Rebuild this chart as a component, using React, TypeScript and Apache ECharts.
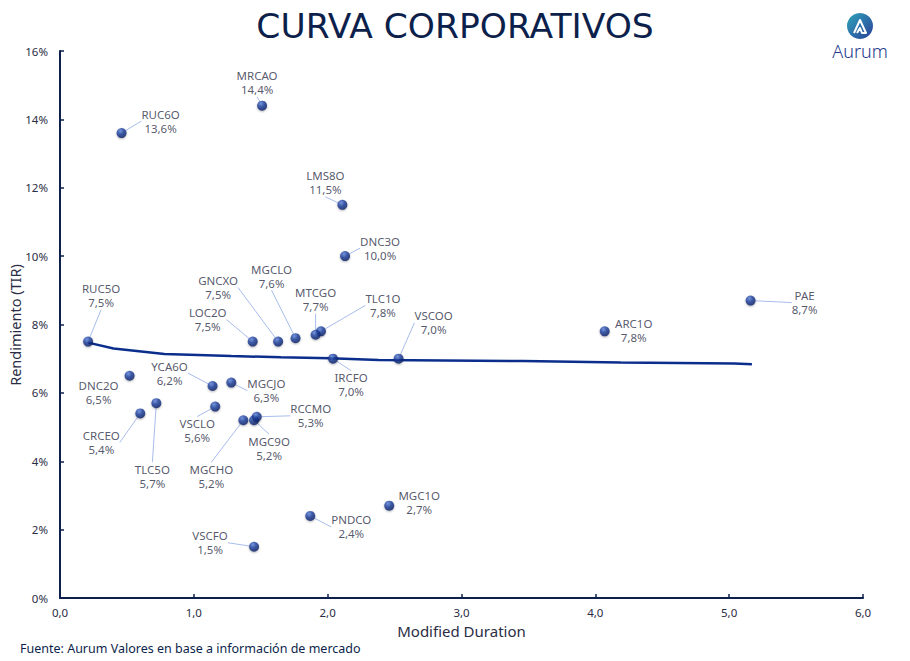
import React, { useEffect, useRef } from "react";
import * as echarts from "echarts";

// Bond tickers, modified duration (years) and yield to maturity (%)
const tickers = [
  "RUC6O", "MRCAO", "LMS8O", "DNC3O", "PAE", "ARC1O", "VSCOO", "IRCFO",
  "TLC1O", "MTCGO", "MGCLO", "GNCXO", "LOC2O", "RUC5O", "DNC2O", "YCA6O",
  "MGCJO", "VSCLO", "CRCEO", "TLC5O", "MGCHO", "MGC9O", "RCCMO", "MGC1O",
  "PNDCO", "VSCFO",
];
const durations = [
  0.46, 1.51, 2.11, 2.13, 5.16, 4.07, 2.53, 2.04,
  1.95, 1.91, 1.76, 1.63, 1.44, 0.21, 0.52, 1.14,
  1.28, 1.16, 0.60, 0.72, 1.37, 1.45, 1.47, 2.46,
  1.87, 1.45,
];
const yields = [
  13.6, 14.4, 11.5, 10.0, 8.7, 7.8, 7.0, 7.0,
  7.8, 7.7, 7.6, 7.5, 7.5, 7.5, 6.5, 6.2,
  6.3, 5.6, 5.4, 5.7, 5.2, 5.2, 5.3, 2.7,
  2.4, 1.5,
];

// Fitted yield curve, read along its length
const curveDuration = [0.21, 0.40, 0.78, 1.28, 1.65, 2.02, 2.38, 2.87, 3.46, 4.19, 5.04, 5.17];
const curveYield = [7.47, 7.30, 7.14, 7.08, 7.04, 7.01, 6.96, 6.95, 6.93, 6.89, 6.86, 6.84];

const xTicks = [0, 1, 2, 3, 4, 5, 6];
const yTicks = [0, 2, 4, 6, 8, 10, 12, 14, 16];

// Label placement relative to each marker (px) and whether a leader line is drawn
const labelOffset: Record<string, [number, number]> = {
  RUC6O: [39, -12], MRCAO: [-5, -23], LMS8O: [-17, -22], DNC3O: [35, -8],
  PAE: [54, 2], ARC1O: [29, -1], VSCOO: [35, -36], IRCFO: [18, 26],
  TLC1O: [62, -26], MTCGO: [0, -35], MGCLO: [-24, -62], GNCXO: [-60, -54],
  LOC2O: [-45, -22], RUC5O: [13, -46], DNC2O: [-31, 17], YCA6O: [-43, -13],
  MGCJO: [35, 8], VSCLO: [-18, 24], CRCEO: [-39, 29], TLC5O: [-4, 73],
  MGCHO: [-32, 56], MGC9O: [15, 28], RCCMO: [54, -1], MGC1O: [30, -3],
  PNDCO: [41, 11], VSCFO: [-44, -4],
};
const noLeader = new Set(["ARC1O", "DNC2O", "MGC1O"]);

const FONT = '"Noto Sans", sans-serif';
const NAVY = "#0d1f4b";
const TEXT = "#2a2d45";

const fmt = (v: number) => v.toFixed(1).replace(".", ",");

export default function App() {
  const ref = useRef<HTMLDivElement>(null);

  useEffect(() => {
    if (!ref.current) return;
    const chart = echarts.init(ref.current, null, { renderer: "svg" });

    const points = tickers.map((name, i) => ({
      name,
      value: [durations[i], yields[i]],
      labelLine: { show: !noLeader.has(name) },
    }));

    const ball = {
      type: "radial",
      x: 0.38,
      y: 0.3,
      r: 0.75,
      colorStops: [
        { offset: 0, color: "#5f84dc" },
        { offset: 0.45, color: "#1a3c98" },
        { offset: 1, color: "#081a5c" },
      ],
    };

    chart.setOption({
      animation: false,
      backgroundColor: "#ffffff",
      textStyle: { fontFamily: FONT },
      grid: { left: 60, right: 47, top: 51, bottom: 63, outerBoundsMode: "none", containLabel: false },
      xAxis: {
        type: "value",
        min: xTicks[0],
        max: xTicks[xTicks.length - 1],
        interval: 1,
        name: "Modified Duration",
        nameLocation: "middle",
        nameGap: 25,
        nameTextStyle: { color: TEXT, fontSize: 15, fontFamily: FONT },
        axisLine: { lineStyle: { color: NAVY, width: 2 } },
        axisTick: { inside: true, length: 4, lineStyle: { color: NAVY, width: 1.5 } },
        axisLabel: { color: TEXT, fontSize: 11.5, margin: 8, formatter: (v: number) => fmt(v) },
        splitLine: { show: false },
      },
      yAxis: {
        type: "value",
        min: yTicks[0],
        max: yTicks[yTicks.length - 1],
        interval: 2,
        axisLine: { show: true, lineStyle: { color: NAVY, width: 2 } },
        axisTick: { show: true, inside: true, length: 4, lineStyle: { color: NAVY, width: 1.5 } },
        axisLabel: { color: TEXT, fontSize: 11.5, margin: 12, formatter: (v: number) => `${v}%` },
        splitLine: { show: false },
      },
      series: [
        {
          type: "line",
          data: curveDuration.map((d, i) => [d, curveYield[i]]),
          showSymbol: false,
          smooth: false,
          silent: true,
          z: 2,
          lineStyle: { color: "#0b2e8c", width: 2.5 },
        },
        {
          type: "scatter",
          data: points,
          symbolSize: 10,
          z: 5,
          itemStyle: {
            color: ball,
            shadowColor: "rgba(0,0,0,0.35)",
            shadowBlur: 2,
            shadowOffsetY: 1,
          },
          label: {
            show: true,
            position: "inside",
            align: "center",
            verticalAlign: "middle",
            color: TEXT,
            fontSize: 11.5,
            lineHeight: 14,
            fontFamily: FONT,
            formatter: (p: any) => `${p.name}\n${fmt(p.value[1])}%`,
          },
          labelLine: {
            show: true,
            lineStyle: { color: "#a8bdec", width: 1 },
          },
          labelLayout: (p: any) => {
            const off = labelOffset[tickers[p.dataIndex]] || [0, 0];
            return { dx: off[0], dy: off[1] };
          },
        },
      ],
      graphic: [
        {
          type: "text",
          x: 455,
          y: 26,
          style: {
            text: "CURVA CORPORATIVOS",
            fill: NAVY,
            font: `400 34.5px "DejaVu Sans", sans-serif`,
            align: "center",
            verticalAlign: "middle",
          },
        },
        {
          type: "text",
          x: 15,
          y: 325,
          rotation: Math.PI / 2,
          style: {
            text: "Rendimiento (TIR)",
            fill: TEXT,
            font: `400 14.5px ${FONT}`,
            align: "center",
            verticalAlign: "middle",
          },
        },
        {
          type: "circle",
          shape: { cx: 860, cy: 26, r: 13 },
          style: {
            fill: {
              type: "linear",
              x: 0, y: 0, x2: 1, y2: 1,
              colorStops: [
                { offset: 0, color: "#2fa6b8" },
                { offset: 1, color: "#2a3f9a" },
              ],
            },
          },
        },
        {
          type: "polyline",
          shape: { points: [[854, 33], [860, 20], [866, 33], [862, 33], [860, 28], [857, 33]] },
          style: { fill: "none", stroke: "#ffffff", lineWidth: 2, lineJoin: "round" },
        },
        {
          type: "text",
          x: 860,
          y: 51,
          style: {
            text: "Aurum",
            fill: "#1d3a8a",
            font: `300 18px ${FONT}`,
            align: "center",
            verticalAlign: "middle",
          },
        },
        {
          type: "text",
          x: 20,
          y: 648,
          style: {
            text: "Fuente: Aurum Valores en base a información de mercado",
            fill: NAVY,
            font: `400 12.5px ${FONT}`,
            verticalAlign: "middle",
          },
        },
      ],
    });

    return () => chart.dispose();
  }, []);

  return <div ref={ref} style={{ width: 910, height: 661, position: "absolute", left: 0, top: 0 }} />;
}
